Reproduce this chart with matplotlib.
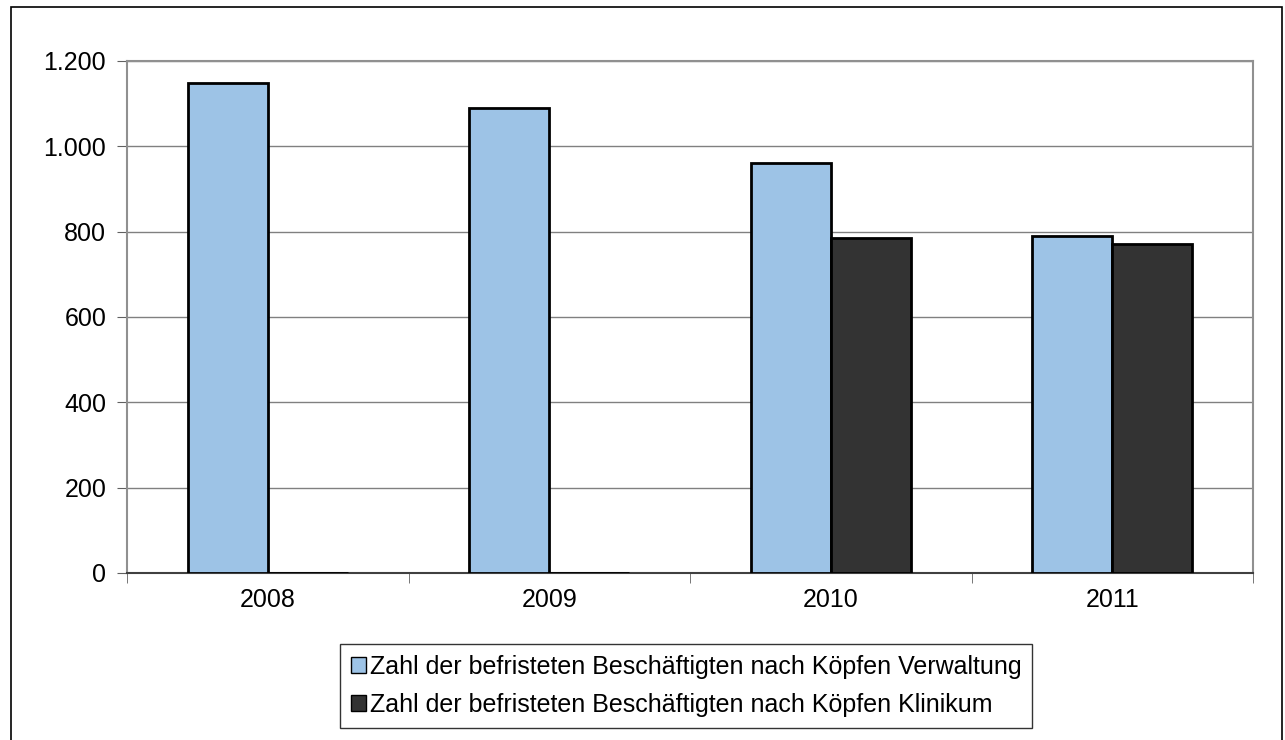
import matplotlib.pyplot as plt
import matplotlib.patches as mpatches
import numpy as np

plt.rcParams['font.family'] = ['Liberation Sans', 'DejaVu Sans']

years = ["2008", "2009", "2010", "2011"]
verwaltung = [1148, 1090, 961, 790]
klinikum = [0, 0, 785, 771]
label_verw = "Zahl der befristeten Beschäftigten nach Köpfen Verwaltung"
label_klin = "Zahl der befristeten Beschäftigten nach Köpfen Klinikum"
yticks = [0, 200, 400, 600, 800, 1000, 1200]

W, H = 1285, 740
fig = plt.figure(figsize=(W / 100, H / 100), dpi=100)
ax = fig.add_axes([127 / W, 1 - 573 / H, (1253 - 127) / W, (573 - 61) / H])

# outer frame of the chart area
frame = mpatches.Rectangle((11 / W, -0.05), (1282 - 11) / W, 1.05 - 7 / H,
                           transform=fig.transFigure, fill=False,
                           edgecolor='black', linewidth=1.2, clip_on=False)
fig.patches.append(frame)

x = np.arange(len(years))
bw = 0.285
ax.bar(x - bw / 2, verwaltung, bw, color='#9dc3e6', edgecolor='black',
       linewidth=2, label=label_verw, zorder=3)
ax.bar(x + bw / 2, klinikum, bw, color='#333333', edgecolor='black',
       linewidth=2, label=label_klin, zorder=3)

ax.set_xlim(-0.5, len(years) - 0.5)
ax.set_ylim(0, 1200)
ax.set_yticks(yticks)
ax.set_yticklabels([f"{v:,}".replace(",", ".") for v in yticks], fontsize=18)
ax.yaxis.grid(True, color='#808080', linewidth=1, zorder=0)

ax.set_xticks(x)
ax.set_xticklabels(years, fontsize=18)
ax.tick_params(axis='x', length=0, pad=11)
ax.set_xticks(np.arange(-0.5, len(years)), minor=True)
ax.tick_params(axis='x', which='minor', length=7, direction='out', color='#606060')
ax.tick_params(axis='y', length=7, direction='out', color='#606060', pad=8)

for s in ['top', 'right', 'left']:
    ax.spines[s].set_color('#909090')
    ax.spines[s].set_linewidth(1.5)
ax.spines['bottom'].set_color('#404040')
ax.spines['bottom'].set_linewidth(1.5)

leg = fig.legend(loc='center', bbox_to_anchor=(686 / W, 1 - 686 / H),
                 fontsize=18, frameon=True, fancybox=False, handlelength=0.6,
                 handleheight=0.6, handletextpad=0.15, borderpad=0.45,
                 labelspacing=0.55, borderaxespad=0)
leg.get_frame().set_edgecolor('black')
leg.get_frame().set_linewidth(1)
for h in leg.legend_handles:
    h.set_linewidth(1)

fig.savefig("out.png", dpi=100)
